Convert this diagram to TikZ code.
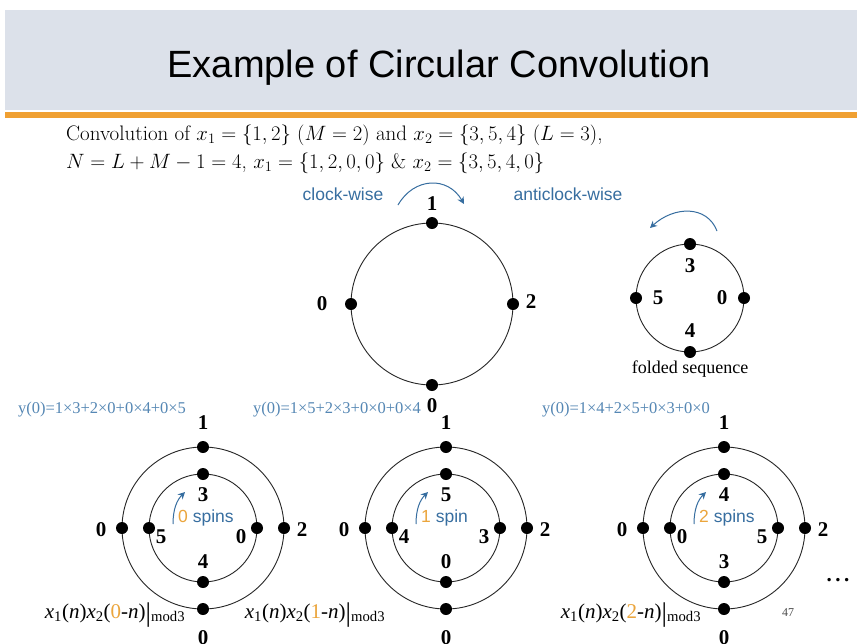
\documentclass[tikz,border=0pt]{standalone}
\usepackage{fontspec}
\newfontfamily\sansfont{Liberation Sans}
\newfontfamily\timesfont{Liberation Serif}
\usetikzlibrary{arrows.meta}
\definecolor{bandgray}{RGB}{220,225,234}
\definecolor{barorange}{RGB}{240,160,50}
\definecolor{dirblue}{RGB}{55,110,160}
\definecolor{sumblue}{RGB}{85,135,180}
\definecolor{spinorange}{RGB}{235,165,60}
\tikzset{
      dot/.style={
        circle,
        fill=black,
        inner sep=0pt,
        minimum size=12pt
      },
      num/.style={
        font=\timesfont\bfseries\fontsize{21}{21}\selectfont,
        inner sep=0pt
      },
      dirtext/.style={
        font=\sansfont\fontsize{17.5}{17.5}\selectfont,
        text=dirblue,
        inner sep=0pt
      },
      sumtext/.style={
        font=\timesfont\fontsize{16.5}{16.5}\selectfont,
        text=sumblue,
        inner sep=0pt
      },
      prodtext/.style={
        font=\timesfont\fontsize{21}{21}\selectfont,
        inner sep=0pt
      },
      ring/.style={
        line width=0.9pt,
        draw=black!85
      },
      turn/.style={
        -{Stealth[length=7pt,width=7pt]},
        draw=dirblue,
        line width=1pt
      }
    }
\begin{document}
\begin{tikzpicture}[x=1pt,y=-1pt]
    \useasboundingbox (0,0) rectangle (857,643);
    \fill[white] (0,0) rectangle (857,643);
    \fill[bandgray] (5,10) rectangle (857,110);
    \fill[barorange] (5,112) rectangle (857,118);
    \node[font=\sansfont\fontsize{38}{38}\selectfont, anchor=base] (title) at (439,77) {Example of Circular Convolution};
    \node[font=\fontsize{21}{22}\selectfont, anchor=base west, inner sep=0pt] (line1) at (66,140) {Convolution of $x_1=\{1,2\}$ $(M=2)$ and $x_2=\{3,5,4\}$ $(L=3)$,};
    \node[font=\fontsize{21}{22}\selectfont, anchor=base west, inner sep=0pt] (line2) at (66,168) {$N=L+M-1=4$, $x_1=\{1,2,0,0\}$ \& $x_2=\{3,5,4,0\}$};
    % sequence x1 on the big circle
    \draw[ring] (432,304) circle[radius=81];
    \node[dot] (top-n) at (432,223) {};
    \node[dot] (top-e) at (513,304) {};
    \node[dot] (top-s) at (432,385) {};
    \node[dot] (top-w) at (351,304) {};
    \node[num] (top-l1) at (432,204) {1};
    \node[num] (top-l2) at (531,302) {2};
    \node[num] (top-l3) at (432,406) {0};
    \node[num] (top-l4) at (322,304) {0};
    \node[dirtext] (cw) at (343,194) {clock-wise};
    \node[dirtext] (acw) at (568,194) {anticlock-wise};
    \coordinate (cw-a) at (398,205);
    \coordinate (cw-b) at (464,204);
    \draw[turn] (cw-a) .. controls +(16,-28) and +(-16,-28) .. (cw-b);
    % folded x2
    \draw[ring] (690,298) circle[radius=54];
    \node[dot] (fold-n) at (690,244) {};
    \node[dot] (fold-e) at (744,298) {};
    \node[dot] (fold-s) at (690,352) {};
    \node[dot] (fold-w) at (636,298) {};
    \node[num] (fold-l1) at (690,266) {3};
    \node[num] (fold-l2) at (722,298) {0};
    \node[num] (fold-l3) at (690,331) {4};
    \node[num] (fold-l4) at (658,298) {5};
    \node[font=\timesfont\fontsize{18}{18}\selectfont, inner sep=0pt] (folded) at (690,369) {folded sequence};
    \coordinate (ccw-a) at (717,231);
    \coordinate (ccw-b) at (650,228);
    \draw[turn] (ccw-a) .. controls +(-10,-26) and +(24,-22) .. (ccw-b);
    % the three spins
    \foreach \i/\cx/\sn/\sw/\ia/\ib/\ic/\id/\sm/\smx/\prx in {
        1/203/0/spins/3/5/0/4/{1×3+2×0+0×4+0×5}/102/115,
        2/446/1/spin/5/4/3/0/{1×5+2×3+0×0+0×4}/337/315,
        3/724/2/spins/4/0/5/3/{1×4+2×5+0×3+0×0}/626/631}{
      \draw[ring] (\cx,528) circle[radius=81];
      \draw[ring] (\cx,528) circle[radius=54];
      \node[dot] (o\i-n) at (\cx,447) {};
      \node[dot] (o\i-e) at (\cx+81,528) {};
      \node[dot] (o\i-s) at (\cx,609) {};
      \node[dot] (o\i-w) at (\cx-81,528) {};
      \node[dot] (i\i-n) at (\cx,474) {};
      \node[dot] (i\i-e) at (\cx+54,528) {};
      \node[dot] (i\i-s) at (\cx,582) {};
      \node[dot] (i\i-w) at (\cx-54,528) {};
      \node[num] (o\i-l1) at (\cx,423) {1};
      \node[num] (o\i-l2) at (\cx+99,530) {2};
      \node[num] (o\i-l3) at (\cx,638) {0};
      \node[num] (o\i-l4) at (\cx-102,530) {0};
      \node[num] (i\i-l1) at (\cx,495) {\ia};
      \node[num] (i\i-l2) at (\cx+38,537) {\ic};
      \node[num] (i\i-l3) at (\cx,562) {\id};
      \node[num] (i\i-l4) at (\cx-42,537) {\ib};
      \node[dirtext, anchor=west] (spin\i) at (\cx-25,518) {\textcolor{spinorange}{\sn} \sw};
      \coordinate (spin\i-a) at (\cx-30,524);
      \coordinate (spin\i-b) at (\cx-18,492);
      \draw[turn] (spin\i-a) .. controls +(0,-15) and +(-8,8) .. (spin\i-b);
      \node[sumtext] (sum\i) at (\smx,410) {y(0)=\sm};
      \node[prodtext, anchor=base] (prod\i) at (\prx,618) {\textit{x}\textsubscript{1}(\textit{n})\textit{x}\textsubscript{2}(\textcolor{spinorange}{\sn}-\textit{n})\raisebox{-3pt}{\fontsize{27}{27}\selectfont|}\textsubscript{mod3}};
    }
    \node[num] (more) at (838,580) {.\,.\,.};
    \node[font=\timesfont\fontsize{12}{12}\selectfont, text=black!70] (page) at (788,613) {47};
\end{tikzpicture}
\end{document}
